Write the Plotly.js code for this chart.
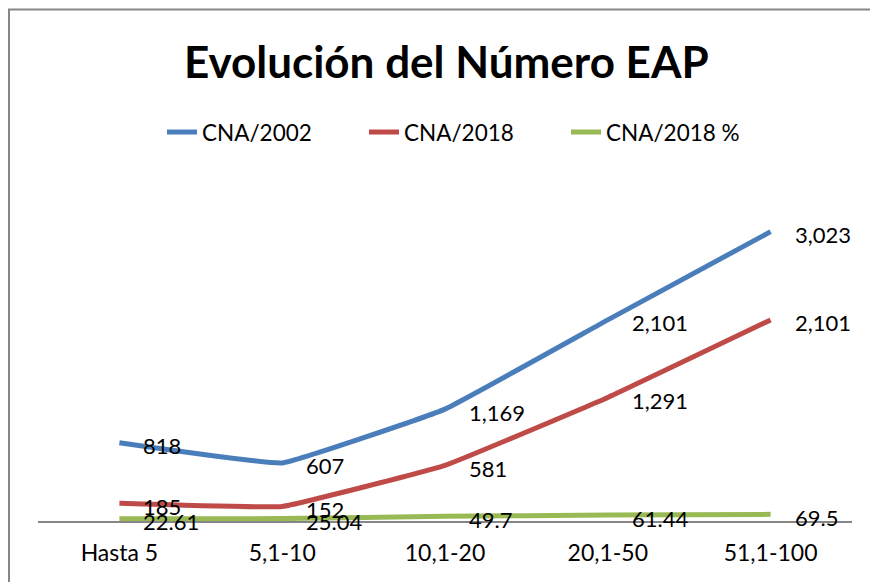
<!DOCTYPE html>
<html>
<head>
<meta charset="utf-8">
<script src="https://cdn.plot.ly/plotly-3.0.1.min.js"></script>
<style>html,body{margin:0;padding:0;background:#fff;}#chart{width:870px;height:582px;}</style>
</head>
<body>
<div id="chart"></div>
<script>
var categories = ["Hasta 5", "5,1-10", "10,1-20", "20,1-50", "51,1-100"];
var cna2002 = [818, 607, 1169, 2101, 3023];
var cna2018 = [185, 152, 581, 1291, 2101];
var cna2018pct = [22.61, 25.04, 49.7, 61.44, 69.5];
var seriesNames = ["CNA/2002", "CNA/2018", "CNA/2018 %"];
var seriesColors = ["#4A7EBB", "#BE4B48", "#98B954"];
var seriesLabels = [
  cna2002.map(function(v){return v.toLocaleString("en-US");}),
  cna2018.map(function(v){return v.toLocaleString("en-US");}),
  cna2018pct.map(function(v){return String(v);})
];
var allSeries = [cna2002, cna2018, cna2018pct];

var FONT = "Lato, 'Open Sans', sans-serif";

var traces = allSeries.map(function(s, i){
  return {
    x: categories, y: s, name: seriesNames[i], type: "scatter", mode: "lines",
    line: {color: seriesColors[i], width: 5, shape: "spline", smoothing: 0.25},
    hoverinfo: "skip"
  };
});

var annotations = [];
allSeries.forEach(function(s, i){
  s.forEach(function(v, j){
    annotations.push({
      x: categories[j], y: v, xref: "x", yref: "y",
      text: seriesLabels[i][j], showarrow: false,
      xanchor: "left", yanchor: "middle", xshift: 22, yshift: -3,
      font: {family: FONT, size: 22, color: "#000"}
    });
  });
});

var layout = {
  width: 870, height: 582,
  margin: {l: 38, r: 18, t: 186, b: 61},
  paper_bgcolor: "#fff", plot_bgcolor: "#fff",
  title: {text: "<b>Evolución del Número EAP</b>", x: 0.513, xanchor: "center", y: 0.892, yanchor: "middle",
          font: {family: FONT, size: 44, color: "#000"}},
  showlegend: true,
  legend: {orientation: "h", x: (150 - 38 + 12) / 814, xanchor: "left", y: 1.16, yanchor: "middle",
           entrywidth: 157, entrywidthmode: "pixels",
           font: {family: FONT, size: 22.5, color: "#000"}, itemwidth: 30, tracegroupgap: 0},
  xaxis: {type: "category", showgrid: false, zeroline: false, showline: true, linecolor: "#868686", linewidth: 2,
          ticks: "outside", ticklen: 10, tickcolor: "rgba(0,0,0,0)",
          tickfont: {family: FONT, size: 23, color: "#000"}, layer: "below traces",
          range: [-0.5, 4.5], fixedrange: true},
  yaxis: {range: [0, 3500], visible: false, showgrid: false, zeroline: false, fixedrange: true},
  annotations: annotations,
  shapes: [{type: "rect", xref: "paper", yref: "paper", x0: -0.0356, x1: 1.1, y0: -0.5, y1: 1.527,
            line: {color: "#868686", width: 2}, fillcolor: "rgba(0,0,0,0)", layer: "below"}]
};

Plotly.newPlot("chart", traces, layout, {displayModeBar: false, staticPlot: true});
</script>
</body>
</html>
